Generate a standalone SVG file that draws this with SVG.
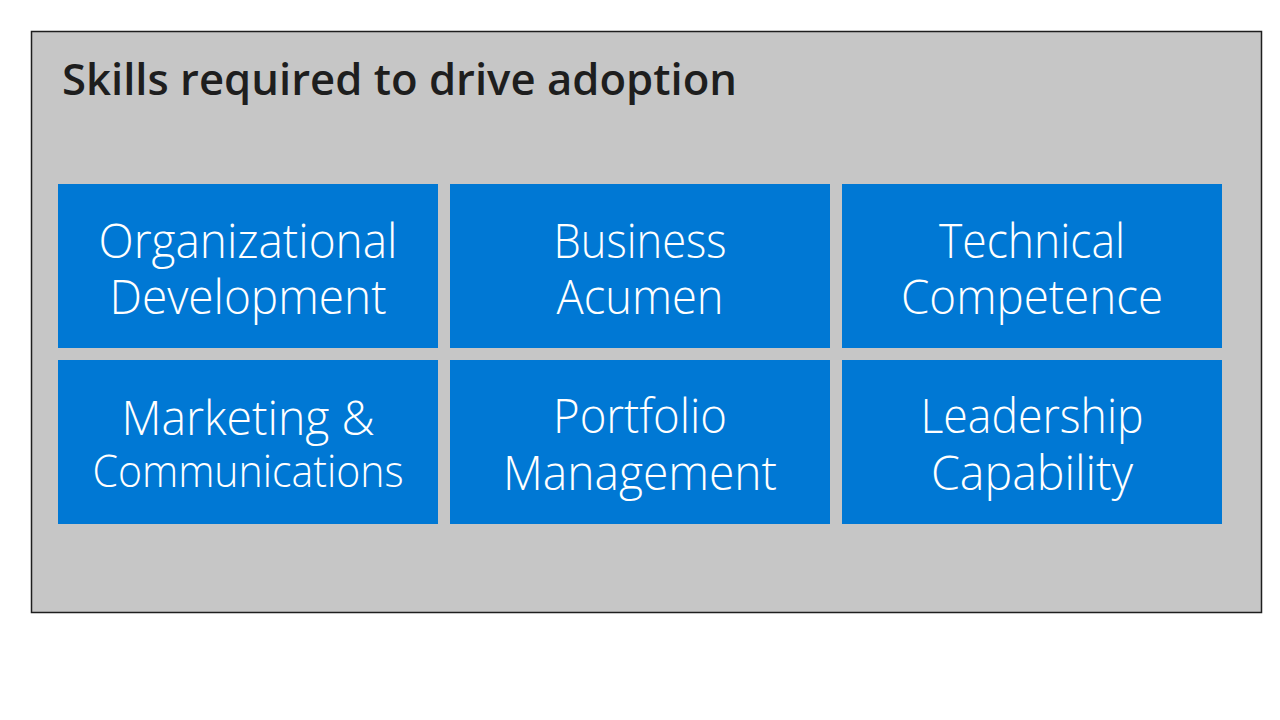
<svg xmlns="http://www.w3.org/2000/svg" width="1280" height="720" viewBox="0 0 1280 720">
<style>
.panel{fill:#C6C6C6;stroke:#1E1E1E;stroke-width:1.5}
.box{fill:#0078D4}
.title{font-family:"Open Sans","Noto Sans","Liberation Sans",sans-serif;font-weight:600;font-size:44px;fill:#1E1E1E}
.lbl{font-family:"Open Sans","Noto Sans","Liberation Sans",sans-serif;font-weight:300;font-size:48px;fill:#FFFFFF;text-anchor:middle}
</style>
<rect width="1280" height="720" fill="#FFFFFF"/>
<rect class="panel" x="31.5" y="31.5" width="1230" height="581"/>
<text class="title" x="62" y="95" textLength="675" lengthAdjust="spacingAndGlyphs">Skills required to drive adoption</text>
<g id="node-org">
<rect class="box" x="58" y="184" width="380" height="164"/>
<text class="lbl" x="248" y="258" textLength="299" lengthAdjust="spacingAndGlyphs">Organizational</text>
<text class="lbl" x="248" y="314" textLength="277" lengthAdjust="spacingAndGlyphs">Development</text>
</g>
<g id="node-business">
<rect class="box" x="450" y="184" width="380" height="164"/>
<text class="lbl" x="640" y="258" textLength="173" lengthAdjust="spacingAndGlyphs">Business</text>
<text class="lbl" x="640" y="314" textLength="167" lengthAdjust="spacingAndGlyphs">Acumen</text>
</g>
<g id="node-technical">
<rect class="box" x="842" y="184" width="380" height="164"/>
<text class="lbl" x="1032" y="258" textLength="186" lengthAdjust="spacingAndGlyphs">Technical</text>
<text class="lbl" x="1032" y="314" textLength="262" lengthAdjust="spacingAndGlyphs">Competence</text>
</g>
<g id="node-marketing">
<rect class="box" x="58" y="360" width="380" height="164"/>
<text class="lbl" x="248" y="435" textLength="253" lengthAdjust="spacingAndGlyphs">Marketing &amp;</text>
<text class="lbl" x="248" y="487" style="font-size:44px" textLength="311" lengthAdjust="spacingAndGlyphs">Communications</text>
</g>
<g id="node-portfolio">
<rect class="box" x="450" y="360" width="380" height="164"/>
<text class="lbl" x="640" y="433" textLength="174" lengthAdjust="spacingAndGlyphs">Portfolio</text>
<text class="lbl" x="640" y="490" textLength="274" lengthAdjust="spacingAndGlyphs">Management</text>
</g>
<g id="node-leadership">
<rect class="box" x="842" y="360" width="380" height="164"/>
<text class="lbl" x="1032" y="433" textLength="223" lengthAdjust="spacingAndGlyphs">Leadership</text>
<text class="lbl" x="1032" y="490" textLength="202" lengthAdjust="spacingAndGlyphs">Capability</text>
</g>
<g id="connectors"></g>
</svg>
